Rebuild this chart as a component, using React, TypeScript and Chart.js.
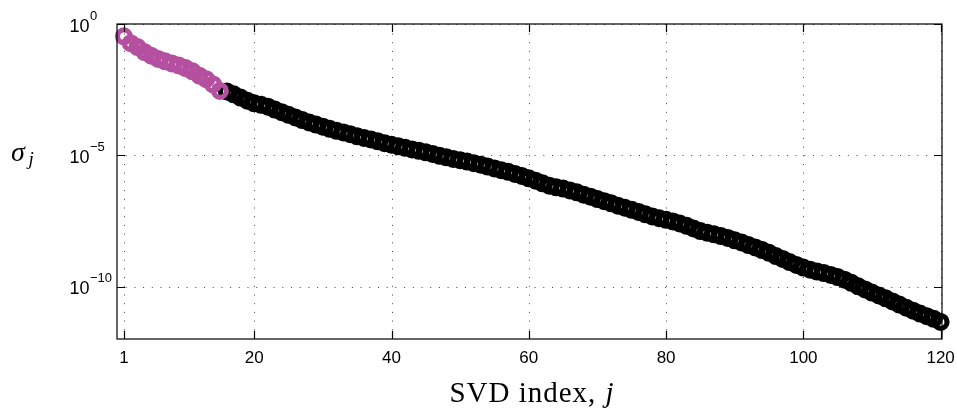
import React, { useEffect, useRef } from "react";
import { Chart, registerables } from "chart.js";

Chart.register(...registerables);

// ---- data ----
const J_LEAD = [1, 2, 3, 4, 5, 6, 7, 8, 9, 10, 11, 12, 13, 14, 15];
const SIGMA_LEAD = [
  3.39e-1, 1.86e-1, 1.32e-1, 8.51e-2, 6.17e-2, 4.68e-2, 3.8e-2, 3.16e-2, 2.63e-2, 2.09e-2,
  1.58e-2, 1.07e-2, 7.94e-3, 5.01e-3, 2.82e-3,
];
const J_TAIL = [
  16, 17, 18, 19, 20, 21, 22, 23, 24, 25, 26, 27, 28, 29, 30, 31, 32, 33, 34, 35,
  36, 37, 38, 39, 40, 41, 42, 43, 44, 45, 46, 47, 48, 49, 50, 51, 52, 53, 54, 55,
  56, 57, 58, 59, 60, 61, 62, 63, 64, 65, 66, 67, 68, 69, 70, 71, 72, 73, 74, 75,
  76, 77, 78, 79, 80, 81, 82, 83, 84, 85, 86, 87, 88, 89, 90, 91, 92, 93, 94, 95,
  96, 97, 98, 99, 100, 101, 102, 103, 104, 105, 106, 107, 108, 109, 110, 111, 112, 113, 114, 115,
  116, 117, 118, 119, 120,
];
const SIGMA_TAIL = [
  2.69e-3, 2.09e-3, 1.58e-3, 1.2e-3, 9.55e-4, 8.32e-4, 7.08e-4, 5.5e-4, 4.37e-4, 3.47e-4,
  2.75e-4, 2.19e-4, 1.78e-4, 1.48e-4, 1.22e-4, 1.02e-4, 8.51e-5, 7.41e-5, 6.31e-5, 5.25e-5,
  4.57e-5, 3.98e-5, 3.39e-5, 2.88e-5, 2.51e-5, 2.19e-5, 1.91e-5, 1.66e-5, 1.48e-5, 1.29e-5,
  1.12e-5, 9.55e-6, 8.32e-6, 7.24e-6, 6.46e-6, 5.75e-6, 5.01e-6, 4.37e-6, 3.72e-6, 3.16e-6,
  2.69e-6, 2.34e-6, 1.95e-6, 1.62e-6, 1.32e-6, 1.07e-6, 8.51e-7, 6.92e-7, 6.03e-7, 5.37e-7,
  4.57e-7, 3.89e-7, 3.16e-7, 2.63e-7, 2.14e-7, 1.78e-7, 1.48e-7, 1.2e-7, 1.0e-7, 8.32e-8,
  6.92e-8, 5.62e-8, 4.68e-8, 3.98e-8, 3.47e-8, 3.02e-8, 2.51e-8, 2.04e-8, 1.62e-8, 1.29e-8,
  1.12e-8, 9.77e-9, 8.32e-9, 7.08e-9, 5.75e-9, 4.79e-9, 3.8e-9, 3.09e-9, 2.45e-9, 1.91e-9,
  1.45e-9, 1.12e-9, 8.51e-10, 6.61e-10, 5.25e-10, 4.37e-10, 3.72e-10, 3.24e-10, 2.75e-10, 2.29e-10,
  1.82e-10, 1.38e-10, 1.02e-10, 7.76e-11, 5.89e-11, 4.57e-11, 3.55e-11, 2.69e-11, 2.04e-11, 1.55e-11,
  1.2e-11, 9.33e-12, 7.41e-12, 5.89e-12, 4.47e-12,
];
const X_TICKS = [1, 20, 40, 60, 80, 100, 120];
const Y_TICKS = [1, 1e-5, 1e-10];
const Y_TICK_EXP = ["0", "\u22125", "\u221210"];
const X_TITLE = "SVD index, ";
const X_TITLE_VAR = "j";
const Y_TITLE = "\u03c3";
const Y_TITLE_SUB = "j";

const LEAD_COLOR = "#B4509F";
const TAIL_COLOR = "#000000";

const axesPlugin = {
  id: "matlabAxes",
  beforeDatasetsDraw(chart: any) {
    const { ctx, chartArea: a, scales } = chart;
    const xs = scales.x;
    const ys = scales.y;
    ctx.save();
    ctx.strokeStyle = "#444";
    ctx.lineWidth = 1;
    ctx.setLineDash([1, 7.7]);
    for (const t of X_TICKS) {
      const px = Math.round(xs.getPixelForValue(t)) + 0.5;
      ctx.beginPath();
      ctx.moveTo(px, a.bottom);
      ctx.lineTo(px, a.top);
      ctx.stroke();
    }
    for (const t of Y_TICKS) {
      const py = Math.round(ys.getPixelForValue(t)) + 0.5;
      ctx.beginPath();
      ctx.moveTo(a.left, py);
      ctx.lineTo(a.right, py);
      ctx.stroke();
    }
    ctx.restore();
  },
  afterDatasetsDraw(chart: any) {
    const { ctx, chartArea: a, scales } = chart;
    const xs = scales.x;
    const ys = scales.y;
    ctx.save();
    ctx.strokeStyle = "#000";
    ctx.lineWidth = 1.2;
    ctx.setLineDash([]);
    ctx.strokeRect(a.left, a.top, a.right - a.left, a.bottom - a.top);
    const tl = 8;
    ctx.beginPath();
    for (const t of X_TICKS) {
      const px = Math.round(xs.getPixelForValue(t)) + 0.5;
      ctx.moveTo(px, a.bottom);
      ctx.lineTo(px, a.bottom - tl);
      ctx.moveTo(px, a.top);
      ctx.lineTo(px, a.top + tl);
    }
    for (const t of Y_TICKS) {
      const py = Math.round(ys.getPixelForValue(t)) + 0.5;
      ctx.moveTo(a.left, py);
      ctx.lineTo(a.left + tl, py);
      ctx.moveTo(a.right, py);
      ctx.lineTo(a.right - tl, py);
    }
    ctx.stroke();

    // tick labels
    ctx.fillStyle = "#000";
    ctx.font = "17px 'Liberation Sans', Arial, sans-serif";
    ctx.textAlign = "center";
    ctx.textBaseline = "middle";
    for (const t of X_TICKS) {
      ctx.fillText(String(t), xs.getPixelForValue(t), a.bottom + 19);
    }
    Y_TICKS.forEach((t, i) => {
      const py = ys.getPixelForValue(t);
      ctx.font = "18px 'Liberation Sans', Arial, sans-serif";
      ctx.textAlign = "left";
      ctx.textBaseline = "alphabetic";
      ctx.fillText("10", 69.5, py + 7.5);
      ctx.font = "13px 'Liberation Sans', Arial, sans-serif";
      ctx.fillText(Y_TICK_EXP[i], 90, py - 4.5);
    });

    // axis titles
    ctx.textAlign = "left";
    ctx.textBaseline = "alphabetic";
    (ctx as any).letterSpacing = "1px";
    const fr = "29px 'Liberation Serif', 'DejaVu Serif', serif";
    const fi = "italic 29px 'Liberation Serif', 'DejaVu Serif', serif";
    ctx.font = fr;
    const w1 = ctx.measureText(X_TITLE).width;
    ctx.font = fi;
    const w2 = ctx.measureText(X_TITLE_VAR).width;
    const cx = (a.left + a.right) / 2 + 2;
    const x0 = cx - (w1 + w2) / 2;
    ctx.font = fr;
    ctx.fillText(X_TITLE, x0, 402);
    ctx.font = fi;
    ctx.fillText(X_TITLE_VAR, x0 + w1 + 1, 402);
    (ctx as any).letterSpacing = "0px";

    ctx.font = "italic 28px 'Liberation Serif', 'DejaVu Serif', serif";
    ctx.fillText(Y_TITLE, 11, 161);
    ctx.font = "italic 19px 'Liberation Serif', 'DejaVu Serif', serif";
    ctx.fillText(Y_TITLE_SUB, 28.5, 165);
    ctx.restore();
  },
};

export default function App() {
  const canvasRef = useRef<HTMLCanvasElement | null>(null);

  useEffect(() => {
    const canvas = canvasRef.current;
    if (!canvas) return;
    const mk = (label: string, xs: number[], ys: number[], color: string) => ({
      label,
      data: xs.map((j, i) => ({ x: j, y: ys[i] })),
      borderColor: color,
      backgroundColor: "rgba(0,0,0,0)",
      pointRadius: 6.4,
      pointHoverRadius: 6.4,
      pointBorderWidth: 5.2,
      showLine: false,
      clip: false as any,
    });
    const chart = new Chart(canvas, {
      type: "scatter",
      data: {
        datasets: [
          mk("leading", J_LEAD, SIGMA_LEAD, LEAD_COLOR),
          mk("tail", J_TAIL, SIGMA_TAIL, TAIL_COLOR),
        ],
      },
      options: {
        animation: false,
        responsive: true,
        maintainAspectRatio: false,
        layout: { padding: { left: 117, right: 15, top: 24, bottom: 73 } },
        plugins: { legend: { display: false }, tooltip: { enabled: false } },
        events: [],
        scales: {
          x: { type: "linear", min: 0, max: 120.2, display: false },
          y: { type: "logarithmic", min: 1e-12, max: 1, display: false },
        },
      },
      plugins: [axesPlugin],
    });
    return () => chart.destroy();
  }, []);

  return (
    <div style={{ position: "absolute", left: 0, top: 0, width: 957, height: 412, background: "#fff" }}>
      <canvas ref={canvasRef} />
    </div>
  );
}
